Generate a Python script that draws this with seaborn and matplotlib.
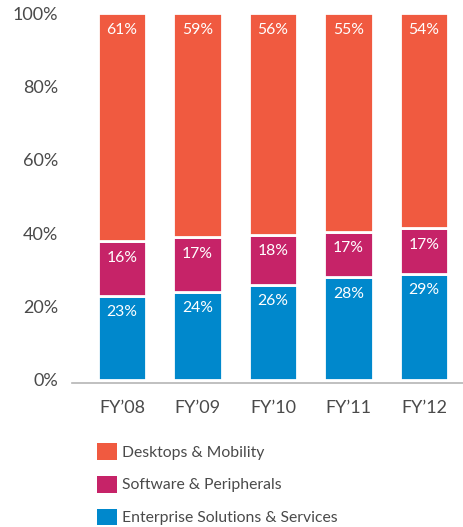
import numpy as np
import seaborn as sns
import matplotlib.pyplot as plt
from matplotlib.patches import Patch

years = ["FY’08", "FY’09", "FY’10", "FY’11", "FY’12"]

# printed percentages
enterprise = [23, 24, 26, 28, 29]
software = [16, 17, 18, 17, 17]
desktops = [61, 59, 56, 55, 54]

# the source artwork draws the middle segment shorter than its label says;
# these are the heights as drawn (desktops fills the rest up to 100%)
software_drawn = [14.8, 14.9, 13.6, 12.4, 12.3]

series_names = ["Desktops & Mobility", "Software & Peripherals", "Enterprise Solutions & Services"]
series_colors = ["#F05A40", "#C62368", "#0088CC"]
yticks = [0, 20, 40, 60, 80, 100]

TEXTGRAY = '#4a4a4a'

sns.set_style("white")
plt.rcParams['font.family'] = ['Lato', 'DejaVu Sans']

fig = plt.figure(figsize=(4.64, 5.27), dpi=100)
ax = fig.add_axes([72/464, 1 - 383/527, 1 - 72/464, (383 - 13)/527])

desktops_drawn = 100 - np.array(enterprise) - np.array(software_drawn)
heights = [enterprise, software_drawn, desktops_drawn]
labels = [enterprise, software, desktops]
colors = [series_colors[2], series_colors[1], series_colors[0]]

bottom = np.zeros(len(years))
for h, lab, c in zip(heights, labels, colors):
    h = np.asarray(h, dtype=float)
    sns.barplot(x=years, y=h, bottom=bottom, color=c, saturation=1, width=0.64,
                edgecolor='white', linewidth=2, ax=ax)
    for i in range(len(years)):
        ax.annotate(f"{lab[i]}%", xy=(i, bottom[i] + h[i]), xytext=(0, -16.5),
                    textcoords='offset pixels', ha='center', va='center',
                    color='white', fontsize=11.3)
    bottom = bottom + h

ax.set_xlim(-0.662, 4.53)
ax.set_ylim(-0.82, 100)
ax.set_yticks(yticks)
ax.set_yticklabels([f"{t}%" for t in yticks])
ax.tick_params(axis='y', length=0, pad=10, labelsize=13, labelcolor=TEXTGRAY)
ax.tick_params(axis='x', length=0, pad=12, labelsize=13, labelcolor=TEXTGRAY)
for s in ['top', 'right', 'left']:
    ax.spines[s].set_visible(False)
ax.spines['bottom'].set_color('#b5b5b5')
ax.spines['bottom'].set_linewidth(1.2)
ax.set_xlabel('')
ax.set_ylabel('')

handles = [Patch(facecolor=c, edgecolor='none') for c in series_colors]
fig.legend(handles, series_names, loc='upper left', bbox_to_anchor=(97/464, 1 - 443/527),
           frameon=False, fontsize=11.3, handlelength=1.27, handleheight=1.27,
           handletextpad=0.35, labelspacing=1.02, borderpad=0, borderaxespad=0,
           labelcolor=TEXTGRAY)

plt.savefig('out.png', dpi=100)
